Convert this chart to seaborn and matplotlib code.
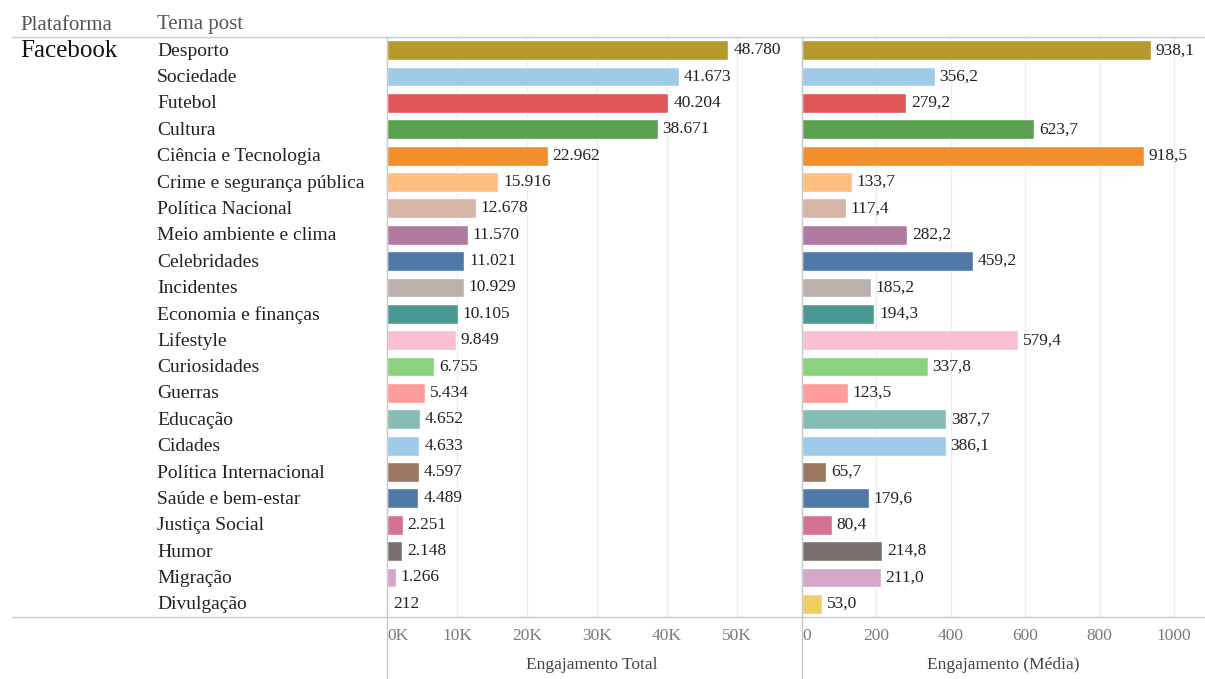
import matplotlib
matplotlib.use("Agg")
import matplotlib.pyplot as plt
import matplotlib.transforms as mtrans
from matplotlib.lines import Line2D
import seaborn as sns
import pandas as pd

categories = ["Desporto", "Sociedade", "Futebol", "Cultura", "Ciência e Tecnologia",
              "Crime e segurança pública", "Política Nacional", "Meio ambiente e clima",
              "Celebridades", "Incidentes", "Economia e finanças", "Lifestyle",
              "Curiosidades", "Guerras", "Educação", "Cidades", "Política Internacional",
              "Saúde e bem-estar", "Justiça Social", "Humor", "Migração", "Divulgação"]
engaj_total = [48780, 41673, 40204, 38671, 22962, 15916, 12678, 11570, 11021, 10929,
               10105, 9849, 6755, 5434, 4652, 4633, 4597, 4489, 2251, 2148, 1266, 212]
engaj_media = [938.1, 356.2, 279.2, 623.7, 918.5, 133.7, 117.4, 282.2, 459.2, 185.2,
               194.3, 579.4, 337.8, 123.5, 387.7, 386.1, 65.7, 179.6, 80.4, 214.8, 211.0, 53.0]
colors = ["#B6992D", "#A0CBE8", "#E15759", "#59A14F", "#F28E2B", "#FFBE7D", "#D7B5A6",
          "#B07AA1", "#4E79A7", "#BAB0AC", "#499894", "#FABFD2", "#8CD17D", "#FF9D9A",
          "#86BCB6", "#A0CBE8", "#9D7660", "#4E79A7", "#D37295", "#79706E", "#D4A6C8",
          "#F1CE63"]
total_ticks = [0, 10000, 20000, 30000, 40000, 50000]
total_tick_labels = ["0K", "10K", "20K", "30K", "40K", "50K"]
media_ticks = [0, 200, 400, 600, 800, 1000]
media_tick_labels = ["0", "200", "400", "600", "800", "1000"]

df = pd.DataFrame({"Tema": categories, "Total": engaj_total, "Media": engaj_media})
palette = dict(zip(categories, colors))

sns.set_theme(style="white")
plt.rcParams["font.family"] = ["Liberation Serif", "DejaVu Serif"]

W, H = 1205, 679
fig = plt.figure(figsize=(W / 100, H / 100), dpi=100)

def fx(px):
    return px / W

def fy(py):
    return 1 - py / H

top_px, bot_px = 37, 617
ax1 = fig.add_axes([fx(387), fy(bot_px), fx(797 - 387), (bot_px - top_px) / H])
ax2 = fig.add_axes([fx(802), fy(bot_px), fx(1205 - 802), (bot_px - top_px) / H])

sns.barplot(data=df, x="Total", y="Tema", hue="Tema", palette=palette, legend=False,
            ax=ax1, width=0.75, saturation=1, orient="h")
sns.barplot(data=df, x="Media", y="Tema", hue="Tema", palette=palette, legend=False,
            ax=ax2, width=0.75, saturation=1, orient="h")

ax1.set_xlim(0, 58570)
ax2.set_xlim(0, 1083)

def fmt_int(v):
    return f"{v:,}".replace(",", ".")

def fmt_dec(v):
    return f"{v:.1f}".replace(".", ",")

for ax, vals, fmt, ticks, tlabels, xlabel in [
    (ax1, engaj_total, fmt_int, total_ticks, total_tick_labels, "Engajamento Total"),
    (ax2, engaj_media, fmt_dec, media_ticks, media_tick_labels, "Engajamento (Média)"),
]:
    for i, v in enumerate(vals):
        ax.annotate(fmt(v), (v, i), xytext=(3.5, 0), textcoords="offset points",
                    va="center", ha="left", fontsize=12.5, color="#222222")
    for sp in ax.spines.values():
        sp.set_visible(False)
    ax.set_ylabel("")
    ax.set_yticks([])
    ax.set_xticks(ticks)
    ax.set_xticklabels(tlabels)
    ax.tick_params(axis="x", length=0, pad=8, labelsize=12.5, labelcolor="#7a7a7a")
    ax.get_xticklabels()[0].set_ha("left")
    ax.set_xlabel(xlabel, fontsize=12.5, color="#444444", labelpad=9)
    ax.grid(axis="x", color="#ececec", lw=0.9)
    ax.set_axisbelow(True)

# Row labels
blend = mtrans.blended_transform_factory(fig.transFigure, ax1.transData)
for i, c in enumerate(categories):
    ax1.text(fx(157), i + 0.04, c, transform=blend, ha="left", va="center",
             fontsize=14, color="#222222", clip_on=False)
ax1.text(fx(20), 0.04, "Facebook", transform=blend, ha="left", va="center",
         fontsize=18, color="#111111", clip_on=False)

# Headers
fig.text(fx(20), fy(25), "Plataforma", ha="left", va="center", fontsize=15, color="#555555")
fig.text(fx(157), fy(25), "Tema post", ha="left", va="center", fontsize=15, color="#555555")

# Separator lines
line_c = "#c8c8c8"
fig.add_artist(Line2D([fx(12), 1], [fy(top_px), fy(top_px)], transform=fig.transFigure,
                      color=line_c, lw=1))
fig.add_artist(Line2D([fx(12), 1], [fy(bot_px), fy(bot_px)], transform=fig.transFigure,
                      color=line_c, lw=1))
for xp in (387, 802):
    fig.add_artist(Line2D([fx(xp), fx(xp)], [0, fy(top_px)], transform=fig.transFigure,
                          color=line_c, lw=1))

fig.savefig("out.png", dpi=100, facecolor="white")
